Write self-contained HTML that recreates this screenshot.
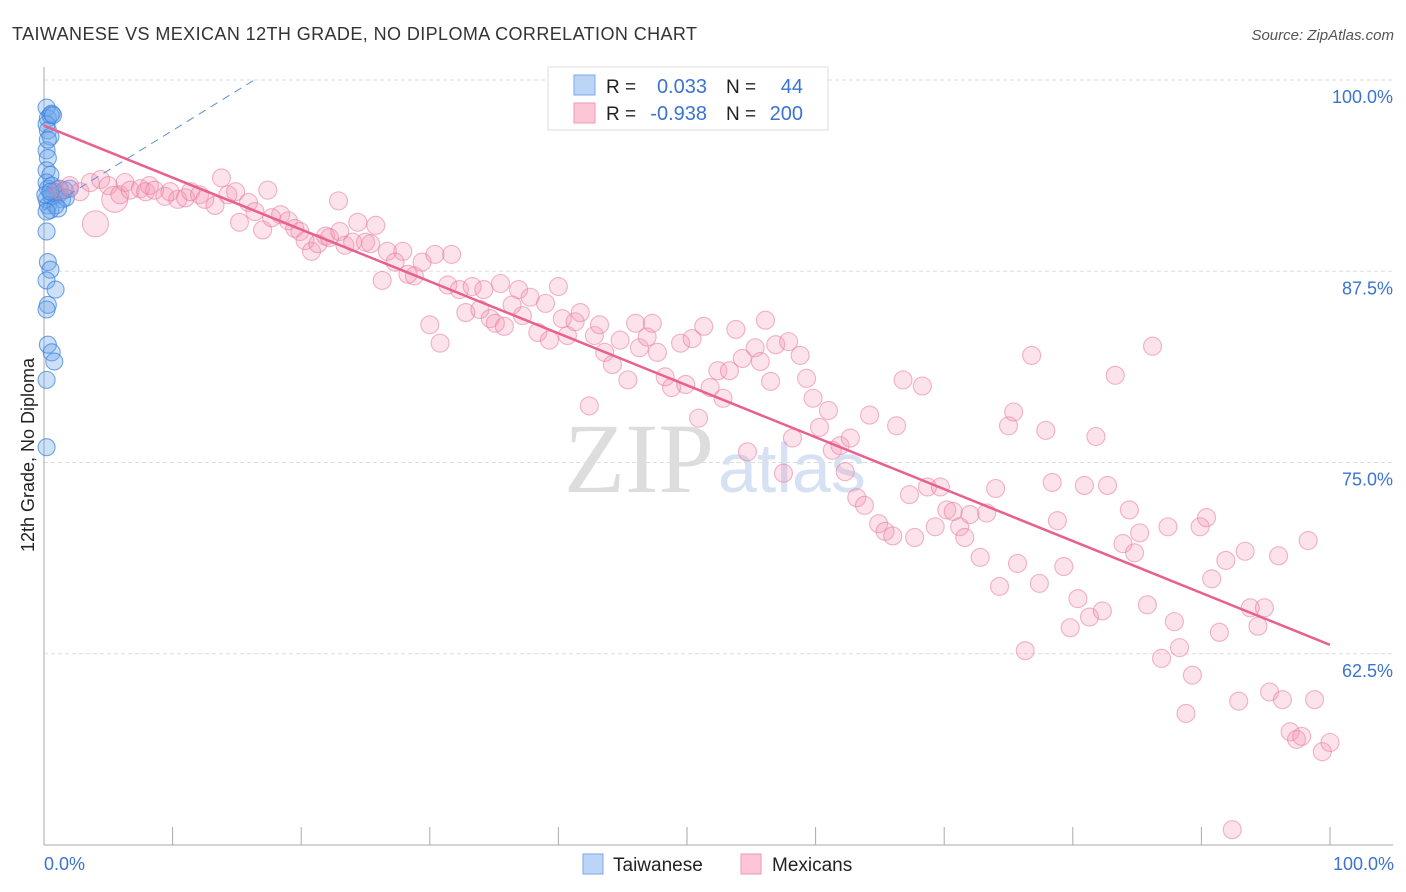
<!DOCTYPE html>
<html><head><meta charset="utf-8"><style>
body{margin:0;background:#fff;font-family:"Liberation Sans",sans-serif;}
svg{display:block}
</style></head><body>
<svg id="chart" width="1406" height="892" viewBox="0 0 1406 892" xmlns="http://www.w3.org/2000/svg">
<text x="12" y="40" font-size="18" fill="#333" textLength="685">TAIWANESE VS MEXICAN 12TH GRADE, NO DIPLOMA CORRELATION CHART</text>
<text x="1394" y="40" font-size="15" fill="#555" font-style="italic" text-anchor="end">Source: ZipAtlas.com</text>
<text x="714" y="492" font-size="100" fill="#ddd" text-anchor="end" font-family="Liberation Serif,serif">ZIP</text>
<text x="718" y="492" font-size="70" fill="#d6e2f3">atlas</text>
<g id="grid"></g>
<g id="axes"></g>
<g id="blue"></g>
<g id="pink"></g>
<g id="lines"></g>
<text transform="translate(34,455) rotate(-90)" font-size="18" fill="#222" text-anchor="middle">12th Grade, No Diploma</text>
<text x="44" y="870" font-size="18" fill="#3b73d1">0.0%</text>
<text x="1394" y="870" font-size="18" fill="#3b73d1" text-anchor="end">100.0%</text>
<g>
<rect x="548" y="67" width="280" height="63" fill="#fff" stroke="#ddd"/>
<rect x="574" y="75" width="21" height="20" fill="#bcd4f5" stroke="#7aaae8"/>
<rect x="574" y="103" width="21" height="20" fill="#fcc6d6" stroke="#ef9ab5"/>
<text x="606" y="93" font-size="19" fill="#222">R =</text><text x="707" y="93" font-size="20" fill="#3b73d1" text-anchor="end">0.033</text>
<text x="726" y="93" font-size="19" fill="#222">N =</text><text x="803" y="93" font-size="20" fill="#3b73d1" text-anchor="end">44</text>
<text x="606" y="120" font-size="19" fill="#222">R =</text><text x="707" y="120" font-size="20" fill="#3b73d1" text-anchor="end">-0.938</text>
<text x="726" y="120" font-size="19" fill="#222">N =</text><text x="803" y="120" font-size="20" fill="#3b73d1" text-anchor="end">200</text>
</g>
<g>
<rect x="583" y="854" width="20" height="20" fill="#bcd4f5" stroke="#7aaae8"/>
<text x="613" y="871" font-size="19" fill="#222">Taiwanese</text>
<rect x="741" y="854" width="20" height="20" fill="#fcc6d6" stroke="#ef9ab5"/>
<text x="772" y="871" font-size="19" fill="#222">Mexicans</text>
</g>
</svg>
<script>
const yTicks=[100,87.5,75,62.5];
const yTickLabels=["100.0%","87.5%","75.0%","62.5%"];
const xTicks=[0,10,20,30,40,50,60,70,80,90,100];
const blueX=[0.2,0.3,0.5,0.6,0.2,0.3,0.5,0.2,0.3,0.2,0.5,0.2,0.3,0.6,0.8,1.1,1.2,1.4,0.2,0.3,0.5,0.6,0.9,0.2,0.3,0.5,0.2,0.9,0.3,0.2,0.3,0.6,0.8,0.2,0.2,1.6,1.7,2.0,0.1,1.1,0.2,0.5,0.3,0.7];
const blueY=[98.2,97.5,97.7,97.8,97.1,96.7,96.3,95.4,94.9,94.1,93.8,93.3,92.9,93.1,92.7,92.5,92.9,92.2,92.2,91.8,91.5,92.4,91.8,90.1,88.1,87.6,86.9,86.3,85.3,85.0,82.7,82.2,81.6,80.4,76.0,92.8,92.3,92.9,92.5,91.6,91.4,92.7,96.1,97.7];
const pinkX=[1.2,2.0,2.8,3.6,4.0,4.4,5.0,5.5,5.9,6.3,6.7,7.5,7.9,8.2,8.6,9.4,9.8,10.4,11.0,11.4,12.1,12.5,13.3,13.8,14.3,14.9,15.2,15.9,16.4,17.0,17.4,17.7,18.4,19.0,19.5,19.9,20.3,20.8,21.3,21.9,22.2,22.9,23.0,23.4,24.0,24.4,25.0,25.4,25.8,26.3,26.7,27.3,27.9,28.3,28.8,29.4,30.0,30.4,30.8,31.4,31.7,32.3,32.8,33.3,33.9,34.2,34.7,35.1,35.5,35.8,36.4,36.9,37.2,37.8,38.4,39.0,39.3,40.0,40.3,40.7,41.3,41.7,42.4,42.8,43.2,43.6,44.2,44.8,45.4,46.0,46.3,46.9,47.3,47.7,48.3,48.8,49.5,49.9,50.4,50.9,51.3,51.8,52.4,52.8,53.3,53.8,54.3,54.7,55.3,55.7,56.1,56.5,56.9,57.5,57.9,58.2,58.8,59.3,59.8,60.3,61.0,61.3,61.9,62.3,62.7,63.2,63.8,64.2,64.9,65.4,66.0,66.3,66.8,67.3,67.7,68.3,68.7,69.3,69.7,70.2,70.7,71.2,71.6,72.0,72.8,73.3,74.0,74.3,75.0,75.4,75.7,76.3,76.8,77.4,77.9,78.4,78.8,79.3,79.8,80.4,80.9,81.3,81.8,82.3,82.7,83.3,83.9,84.4,84.8,85.2,85.8,86.2,86.9,87.4,87.9,88.3,88.8,89.3,89.9,90.4,90.8,91.4,91.9,92.4,92.9,93.4,93.8,94.4,94.9,95.3,96.0,96.3,96.9,97.4,97.8,98.3,98.8,99.4,100];
const pinkY=[92.8,93.1,92.7,93.3,90.6,93.5,93.1,92.2,92.5,93.3,92.8,92.9,92.7,93.1,92.8,92.4,92.7,92.2,92.3,92.7,92.5,92.2,91.8,93.6,92.5,92.7,90.7,92.0,91.4,90.2,92.8,91.0,91.2,90.8,90.3,90.1,89.5,88.8,89.3,89.8,89.7,92.1,90.1,89.2,89.4,90.7,89.4,89.3,90.5,86.9,88.8,88.1,88.8,87.3,87.2,88.1,84.0,88.6,82.8,86.6,88.6,86.3,84.8,86.5,85.0,86.3,84.4,84.1,86.7,83.9,85.3,86.3,84.6,85.8,83.5,85.4,83.0,86.5,84.4,83.3,84.2,84.8,78.7,83.3,84.0,82.2,81.4,83.0,80.4,84.1,82.5,83.2,84.1,82.2,80.6,79.9,82.8,80.1,83.1,77.9,83.9,79.9,81.0,79.2,81.0,83.7,81.8,75.7,82.5,81.6,84.3,80.3,82.7,74.3,82.9,76.6,82.0,80.5,79.2,77.3,78.4,75.8,76.1,74.4,76.6,72.7,72.2,78.1,71.0,70.5,70.2,77.4,80.4,72.9,70.1,80.0,73.4,70.8,73.4,71.9,71.8,70.8,70.1,71.6,68.8,71.7,73.3,66.9,77.4,78.3,68.4,62.7,82.0,67.1,77.1,73.7,71.2,68.2,64.2,66.1,73.5,64.9,76.7,65.3,73.5,80.7,69.7,71.9,69.1,70.4,65.7,82.6,62.2,70.8,64.6,62.9,58.6,61.1,70.8,71.4,67.4,63.9,68.6,51.0,59.4,69.2,65.5,64.3,65.5,60.0,68.9,59.5,57.4,56.9,57.1,69.9,59.5,56.1,56.7];
const bigPink=[4,7];
const blueLine=[91.5,0.52]; // intercept, slope as drawn in reference

const NS="http://www.w3.org/2000/svg";
const X0=44,X1=1330,Y0=80,Y1=845,YMIN=50,YMAX=100;
const sx=v=>X0+(X1-X0)*v/100;
const sy=v=>Y1-(Y1-Y0)*(v-YMIN)/(YMAX-YMIN);
function mk(tag,attrs,parent){const e=document.createElementNS(NS,tag);for(const k in attrs)e.setAttribute(k,attrs[k]);parent.appendChild(e);return e;}
const grid=document.getElementById('grid');
yTicks.forEach((t,i)=>{
  const l=mk('line',{x1:X0,x2:1393,y1:sy(t),y2:sy(t),stroke:'#ddd','stroke-dasharray':'4,3'},grid);
  
  
  const tx=mk('text',{x:1393,y:sy(t)+23,'font-size':18,fill:'#3b73d1','text-anchor':'end'},grid);
  tx.textContent=yTickLabels[i];
  
  
});
const axes=document.getElementById('axes');
const ya=mk('line',{x1:X0,x2:X0,y1:67,y2:Y1,stroke:'#aaa'},axes);


const xa=mk('line',{x1:X0,x2:1393,y1:Y1,y2:Y1,stroke:'#aaa'},axes);


xTicks.forEach(t=>{
  const l=mk('line',{x1:sx(t),x2:sx(t),y1:Y1,y2:Y1-18,stroke:'#aaa'},axes);
  
  
});
const bg=document.getElementById('blue');
blueX.forEach((x,i)=>{
  const c=mk('circle',{cx:sx(x),cy:sy(blueY[i]),r:8.5,fill:'rgba(110,165,235,0.35)',stroke:'rgba(60,130,220,0.7)','stroke-width':1.1},bg);
  
  
});
const pg=document.getElementById('pink');
pinkX.forEach((x,i)=>{
  const c=mk('circle',{cx:sx(x),cy:sy(pinkY[i]),r:bigPink.includes(i)?13:9,fill:'rgba(245,150,180,0.28)',stroke:'rgba(232,120,158,0.55)','stroke-width':1.1},pg);
  
  
});
const n=pinkX.length;let mx=0,my=0;pinkX.forEach((x,i)=>{mx+=x;my+=pinkY[i];});mx/=n;my/=n;
let sxy=0,sxx=0;pinkX.forEach((x,i)=>{sxy+=(x-mx)*(pinkY[i]-my);sxx+=(x-mx)*(x-mx);});
const b=sxy/sxx,a=my-b*mx;
const lg=document.getElementById('lines');
const pl=mk('line',{x1:sx(0),y1:sy(a),x2:sx(100),y2:sy(a+b*100),stroke:'#e8608f','stroke-width':2.5},lg);


const xEnd=(100-blueLine[0])/blueLine[1];
const bl=mk('line',{x1:sx(0),y1:sy(blueLine[0]),x2:sx(xEnd),y2:sy(100),stroke:'#5b8fd8','stroke-width':1,'stroke-dasharray':'8,6'},lg);


</script>
</body></html>
